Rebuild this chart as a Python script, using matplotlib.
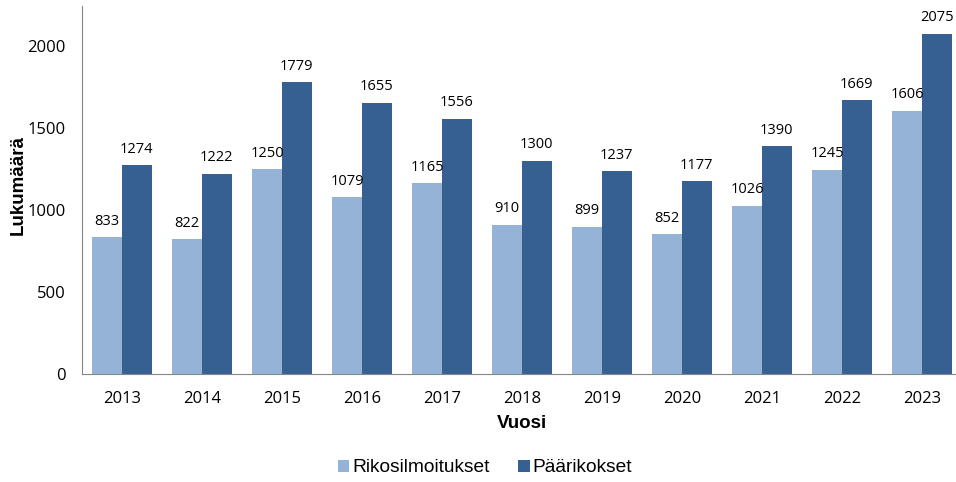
import numpy as np
import matplotlib.pyplot as plt

years = ['2013', '2014', '2015', '2016', '2017', '2018', '2019', '2020', '2021', '2022', '2023']
rikosilmoitukset = [833, 822, 1250, 1079, 1165, 910, 899, 852, 1026, 1245, 1606]
paarikokset = [1274, 1222, 1779, 1655, 1556, 1300, 1237, 1177, 1390, 1669, 2075]

light = '#95B3D7'
dark = '#366092'

fig = plt.figure(figsize=(9.56, 4.82), dpi=100)
ax = fig.add_axes([82 / 956, 1 - 374 / 482, (956 - 82) / 956, (374 - 6) / 482])

x = np.arange(len(years))
w = 0.37
b1 = ax.bar(x - w / 2, rikosilmoitukset, w, color=light, label='Rikosilmoitukset')
b2 = ax.bar(x + w / 2, paarikokset, w, color=dark, label='Päärikokset')

for bars in (b1, b2):
    for r in bars:
        ax.annotate(str(int(r.get_height())), (r.get_x() + r.get_width() / 2, r.get_height()),
                    xytext=(0, 6), textcoords='offset points', ha='center', va='bottom',
                    fontsize=10.5, family='Open Sans')

ax.set_xlim(-0.5, (956 - 82) / 80 - 0.5)
ax.set_ylim(0, 2244)
ax.set_yticks([0, 500, 1000, 1500, 2000])
ax.set_xticks(x)
ax.set_xticklabels(years)
ax.tick_params(length=0, labelsize=12)
for lab in ax.get_xticklabels() + ax.get_yticklabels():
    lab.set_family('Open Sans')
ax.tick_params(axis='x', pad=12)
ax.tick_params(axis='y', pad=12)

for s in ['top', 'right']:
    ax.spines[s].set_visible(False)
for s in ['left', 'bottom']:
    ax.spines[s].set_color('#868686')

fig.text(18 / 956, 1 - 185 / 482, 'Lukumäärä', rotation=90, ha='center', va='center',
         fontsize=13.5, fontweight='bold', family='Liberation Sans')
fig.text(522 / 956, 1 - 424 / 482, 'Vuosi', ha='center', va='center',
         fontsize=13.5, fontweight='bold', family='Liberation Sans')

fig.legend(handles=[b1, b2], loc='center', bbox_to_anchor=(485 / 956, 1 - 468 / 482), ncol=2,
           frameon=False, prop={'family': 'Liberation Sans', 'size': 13.8},
           handlelength=0.6, handleheight=0.6, handletextpad=0.15, columnspacing=1.5)

fig.savefig('out.png', dpi=100)
